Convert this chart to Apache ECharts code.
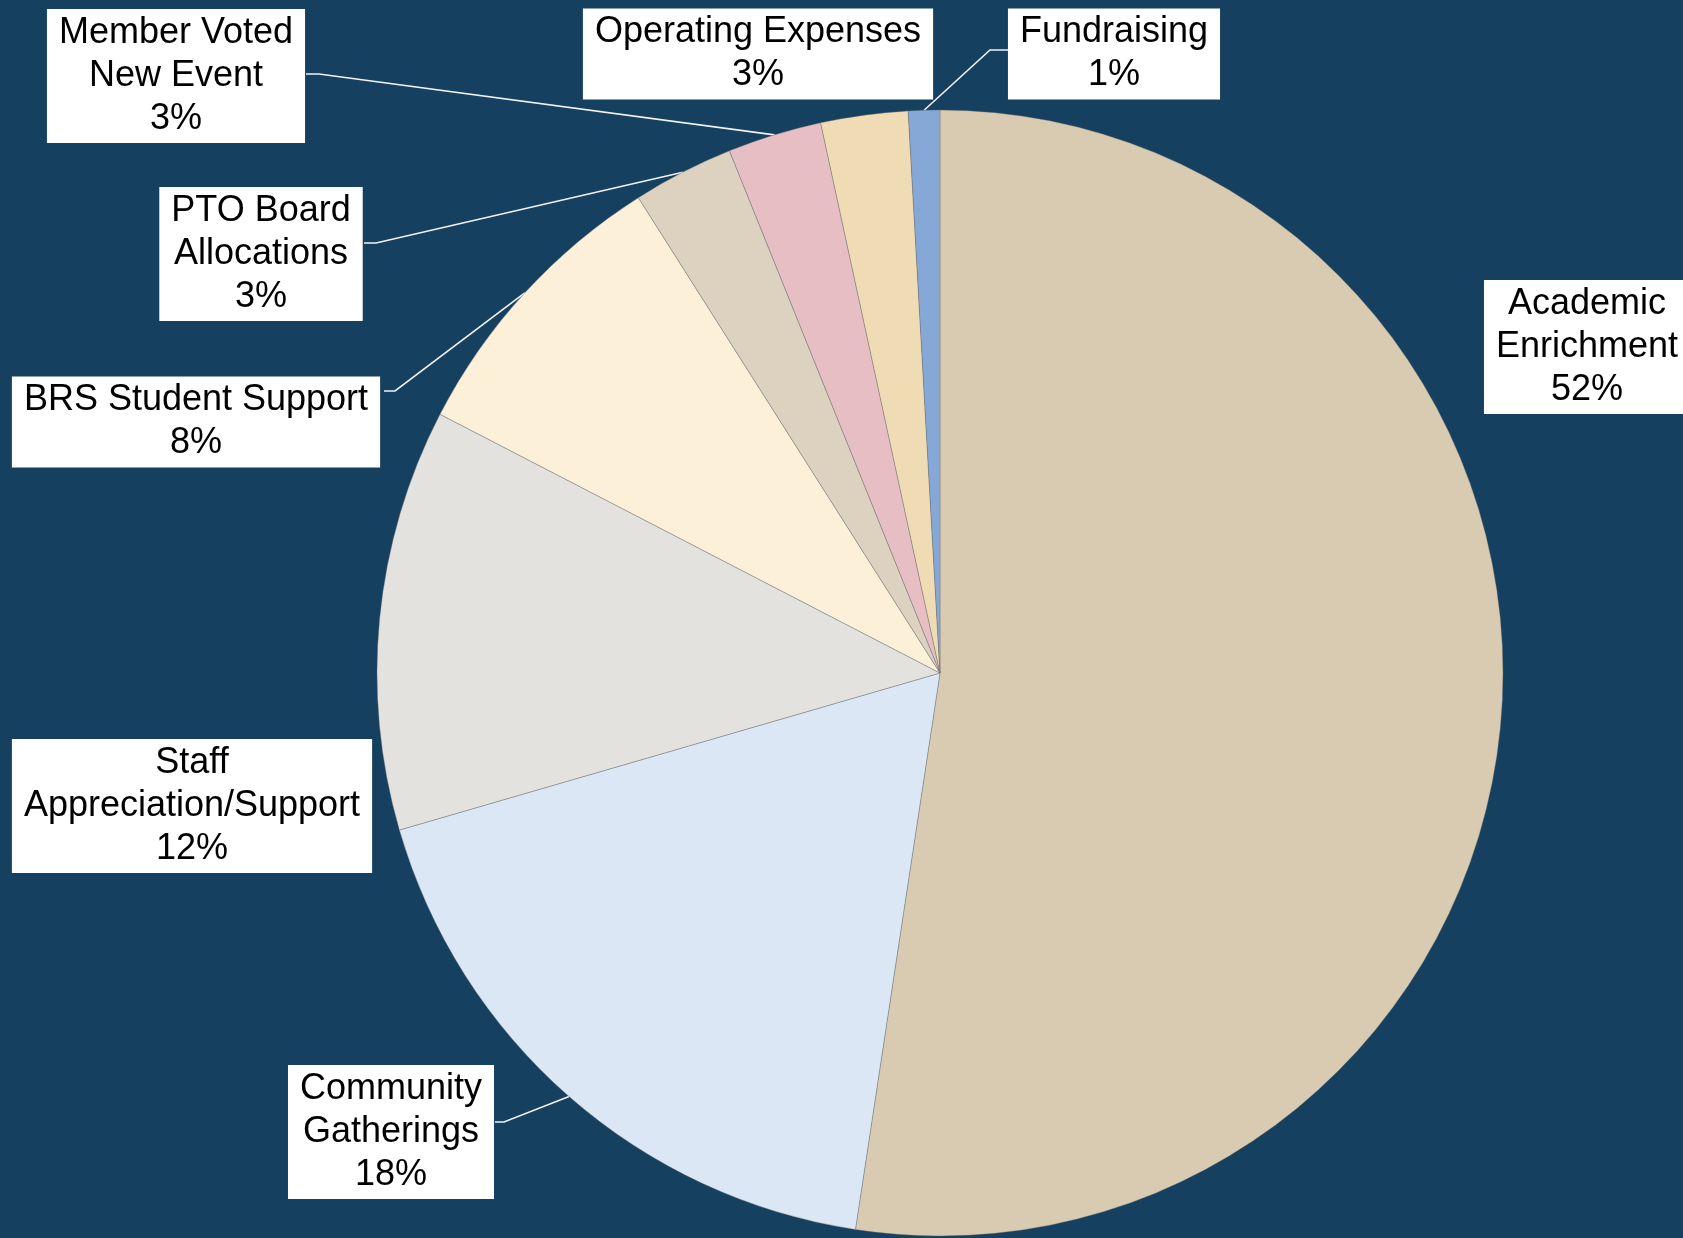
<!DOCTYPE html>
<html>
<head>
<meta charset="utf-8">
<script src="https://cdn.jsdelivr.net/npm/echarts@6/dist/echarts.min.js"></script>
<style>
  html, body { margin: 0; padding: 0; background: #15405f; }
  #main { width: 1683px; height: 1238px; }
</style>
</head>
<body>
<div id="main"></div>
<script>
// budget split (percent)
const categories = [
  'Academic Enrichment',
  'Community Gatherings',
  'Staff Appreciation/Support',
  'BRS Student Support',
  'PTO Board Allocations',
  'Member Voted New Event',
  'Operating Expenses',
  'Fundraising'
];
const values = [52.4, 18.1, 12.1, 8.4, 2.9, 2.7, 2.5, 0.9];

// how each label is broken into lines
const labelLines = [
  ['Academic', 'Enrichment'],
  ['Community', 'Gatherings'],
  ['Staff', 'Appreciation/Support'],
  ['BRS Student Support'],
  ['PTO Board', 'Allocations'],
  ['Member Voted', 'New Event'],
  ['Operating Expenses'],
  ['Fundraising']
];

const colors = ['#d8cbb1', '#dbe7f5', '#e4e2de', '#fcf0d9', '#ddd2c0', '#e6bec3', '#efdcb4', '#85a8d6'];

// label box centres, and leader attach point [x, y, bend dx] (null = no leader)
const labelCenter = [[1587, 347], [391, 1132], [192, 806], [196, 422], [261, 254], [176, 76], [758, 54], [1114, 54]];
const leader = [null, [495, 1122, 9], null, [384, 391, 11], [364, 243, 12], [306, 74, 13], null, [1008, 50, -18]];

const chart = echarts.init(document.getElementById('main'), null, { renderer: 'canvas' });

const data = categories.map((name, i) => ({
  name: name,
  value: values[i],
  itemStyle: { color: colors[i] },
  labelLine: { show: leader[i] !== null }
}));

chart.setOption({
  backgroundColor: '#15405f',
  animation: false,
  series: [{
    type: 'pie',
    center: [940, 673],
    radius: 563,
    startAngle: 90,
    clockwise: true,
    avoidLabelOverlap: false,
    data: data,
    itemStyle: { borderColor: 'rgba(110,110,110,0.55)', borderWidth: 0.7 },
    emphasis: { disabled: true },
    label: {
      show: true,
      position: 'outside',
      formatter: (p) => labelLines[p.dataIndex].join('\n') + '\n' + Math.round(p.percent) + '%',
      color: '#000',
      fontFamily: '"Liberation Sans", Arial, sans-serif',
      fontSize: 36,
      lineHeight: 43,
      align: 'center',
      backgroundColor: '#ffffff',
      padding: [3, 12, 2, 12]
    },
    labelLine: {
      show: true,
      length: 20,
      length2: 20,
      lineStyle: { color: '#f2f2f2', width: 1.6 }
    },
    labelLayout: function (params) {
      const i = params.dataIndex;
      const c = labelCenter[i];
      const out = { x: c[0], y: c[1], align: 'center', verticalAlign: 'middle' };
      const l = leader[i];
      if (l && params.labelLinePoints) {
        const start = params.labelLinePoints[0];
        out.labelLinePoints = [start, [l[0] + l[2], l[1]], [l[0], l[1]]];
      }
      return out;
    }
  }]
});
</script>
</body>
</html>
